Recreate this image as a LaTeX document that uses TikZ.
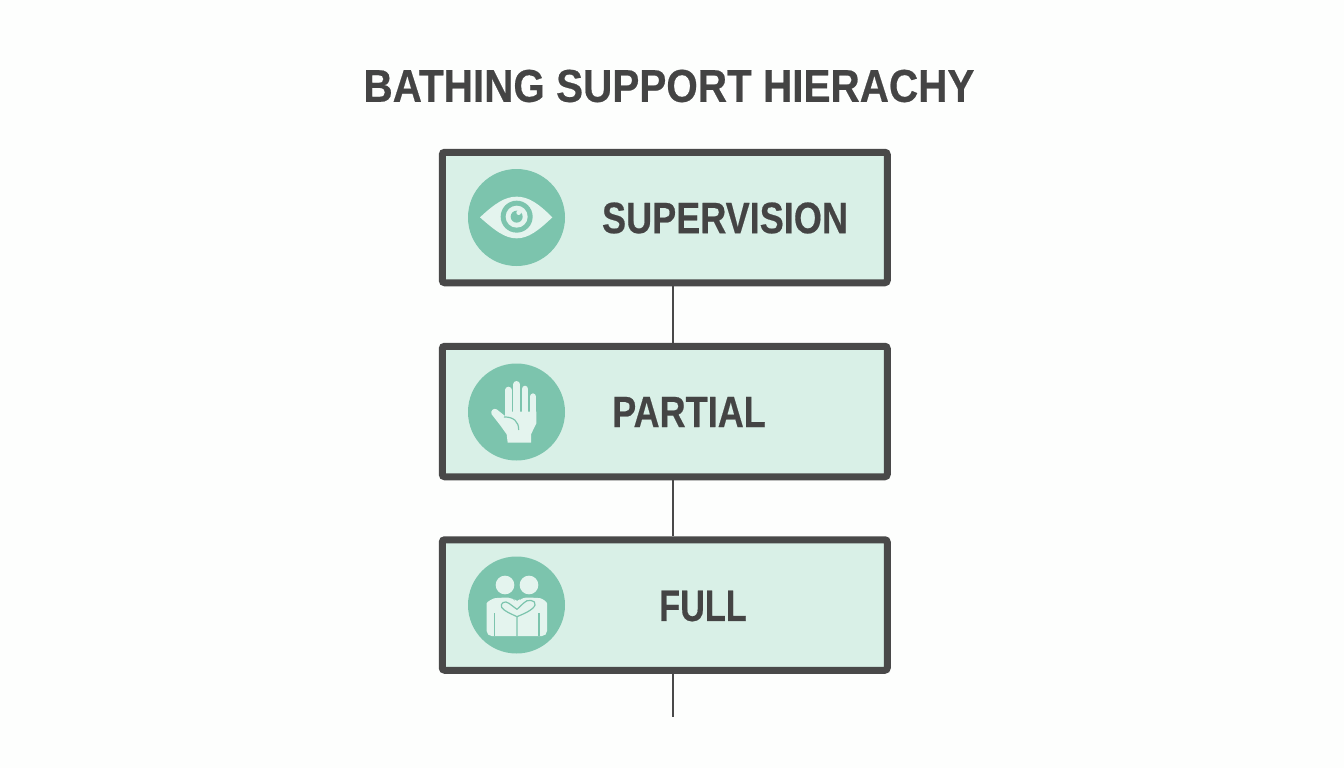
\documentclass[tikz,border=0pt]{standalone}
\usepackage{fontspec}
\setmainfont[BoldFeatures={FakeBold=0.5}]{Liberation Sans}
\definecolor{dark}{HTML}{494949}
\definecolor{txt}{HTML}{444444}
\definecolor{mint}{HTML}{D9F0E7}
\definecolor{teal}{HTML}{7CC4AD}
\definecolor{pale}{HTML}{E4F4EE}
\definecolor{paper}{HTML}{FDFEFD}
\tikzset{
  tierbox/.style={draw=dark,fill=mint,line width=7pt,rounded corners=2.5pt,minimum width=445pt,minimum height=130.5pt,inner sep=0pt},
  badge/.style={circle,fill=teal,minimum size=97pt,inner sep=0pt},
  label/.style={text=txt,font=\fontsize{44}{44}\selectfont\bfseries,inner sep=0pt,anchor=center,xscale=0.82,transform shape},
  link/.style={draw=dark,line width=2pt},
  paleline/.style={draw=pale,line cap=round,line join=round},
}
\begin{document}
\begin{tikzpicture}[x=1pt,y=-1pt]
\useasboundingbox (0,0) rectangle (1344,768);
\fill[paper] (0,0) rectangle (1344,768);
\node[text=txt,font=\fontsize{46}{46}\selectfont\bfseries,inner sep=0pt,xscale=0.88,transform shape] (title) at (669,86) {BATHING SUPPORT HIERACHY};
\node[tierbox] (b1) at (664.75,217.5) {};
\node[tierbox] (b2) at (664.75,411.5) {};
\node[tierbox] (b3) at (664.75,605) {};
\coordinate (tail) at (672.5,717);
\draw[link] ([xshift=7.75pt]b1.south) -- ([xshift=7.75pt]b2.north);
\draw[link] ([xshift=7.75pt]b2.south) -- ([xshift=7.75pt]b3.north);
\draw[link] ([xshift=7.75pt]b3.south) -- (tail);
\node[badge] (c1) at (516.5,217.5) {};
\node[badge] (c2) at (516.5,412) {};
\node[badge] (c3) at (516.5,605) {};
\node[label] (t1) at (725,218) {SUPERVISION};
\node[label] (t2) at (689,412) {PARTIAL};
\node[label,xscale=0.95] (t3) at (703,606) {FULL};
% eye
\begin{scope}[shift={(430,140)},scale=1/3]
\fill[pale] (150,232) .. controls (195,190) and (225,170) .. (260,170) .. controls (295,170) and (325,190) .. (367,232) .. controls (325,272) and (295,295) .. (260,295) .. controls (225,295) and (195,272) .. (150,232) -- cycle;
\fill[teal] (260,230) circle (48);
\fill[pale] (260,230) circle (33);
\fill[teal] (260,230) circle (18);
\fill[pale] (266,218) circle (7);
\end{scope}
% hand
\begin{scope}[shift={(455,355)},scale=1/3]
\draw[paleline,line width=6.6pt] (160,105) -- (160,190);
\draw[paleline,line width=6.6pt] (185,88) -- (185,180);
\draw[paleline,line width=6.6pt] (210,102) -- (210,180);
\draw[paleline,line width=6.6pt] (234,125) -- (234,195);
\fill[pale] (150,170) -- (244,170) -- (244,205) -- (228,238) -- (228,263) -- (158,263) -- (155,238) -- (135,210) -- (110,178) .. controls (105,168) and (115,158) .. (125,163) -- (150,183) -- cycle;
\draw[draw=teal,line width=1.2pt] (147,186) .. controls (175,185) and (192,200) .. (191,225);
\end{scope}
% people
\begin{scope}[shift={(455,550)},scale=1/3]
\fill[pale] (150,105) circle (28);
\fill[pale] (222,105) circle (28);
\fill[pale,rounded corners=5pt] (95,258) -- (95,175) .. controls (95,155) and (115,145) .. (135,143) -- (175,143) -- (186,160) -- (198,143) -- (240,143) .. controls (260,145) and (276,155) .. (276,175) -- (276,258) -- cycle;
\draw[draw=teal,line width=1.2pt,line join=round] (186,200) .. controls (165,190) and (150,185) .. (140,172) .. controls (134,160) and (150,150) .. (162,160) -- (186,178) -- (205,160) .. controls (215,145) and (245,150) .. (240,165) .. controls (235,180) and (205,192) .. (186,200) -- (186,258);
\draw[draw=teal,line width=1.2pt] (118,190) -- (118,258);
\draw[draw=teal,line width=1.2pt] (252,190) -- (252,258);
\end{scope}
\end{tikzpicture}
\end{document}
